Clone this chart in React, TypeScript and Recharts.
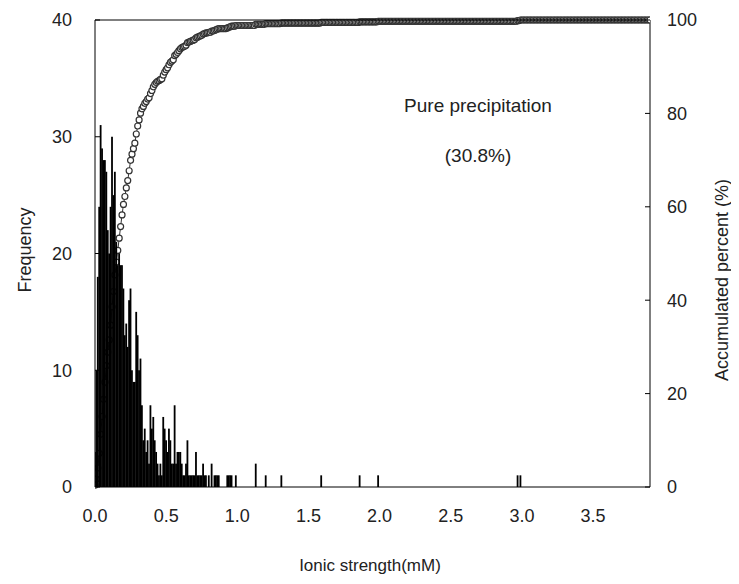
import React from "react";
import {
  ComposedChart,
  Bar,
  Line,
  XAxis,
  YAxis,
  ReferenceLine,
} from "recharts";

// frequency per 0.01 mM bin, 0.00 .. 0.99
const binFreq = [
  3, 10, 18, 24, 31, 29, 28, 28, 27, 22,
  20, 24, 30, 25, 27, 21, 19, 20, 19, 19,
  17, 13, 14, 12, 16, 17, 10, 9, 9, 15,
  13, 10, 11, 7, 4, 5, 3, 4, 2, 7,
  5, 6, 4, 3, 2, 1, 2, 1, 6, 5,
  4, 3, 5, 4, 2, 2, 7, 2, 3, 3,
  3, 2, 1, 1, 2, 4, 1, 1, 1, 1,
  1, 3, 1, 1, 1, 1, 2, 1, 1, 0,
  1, 0, 2, 0, 1, 1, 1, 1, 0, 0,
  0, 0, 0, 1, 1, 1, 1, 0, 0, 1,
];

// isolated bins above 1 mM
const sparseX = [1.13, 1.2, 1.31, 1.59, 1.86, 1.99, 2.97, 2.99];
const sparseFreq = [2, 1, 1, 1, 1, 1, 1, 1];

const lastBin = 390; // 3.90 mM
const xTicks = [0, 0.5, 1, 1.5, 2, 2.5, 3, 3.5];
const freqTicks = [0, 10, 20, 30, 40];
const pctTicks = [0, 20, 40, 60, 80, 100];

const freqAt = (i: number) => {
  if (i < binFreq.length) return binFreq[i];
  const k = sparseX.findIndex((v) => Math.round(v * 100) === i);
  return k >= 0 ? sparseFreq[k] : 0;
};

const total =
  binFreq.reduce((a, b) => a + b, 0) + sparseFreq.reduce((a, b) => a + b, 0);

const rows: { x: number; freq: number; cum: number }[] = [];
let running = 0;
for (let i = 0; i <= lastBin; i++) {
  const f = freqAt(i);
  running += f;
  rows.push({ x: i / 100, freq: f, cum: (running / total) * 100 });
}

const W = 731;
const H = 568;
const font = "'Liberation Sans', Arial, sans-serif";
const tickStyle = { fill: "#222", fontSize: 18, fontFamily: font };

const abs = (
  left: number,
  top: number,
  size: number,
  rotate = 0
): React.CSSProperties => ({
  position: "absolute",
  left,
  top,
  transform: `translate(-50%, -50%) rotate(${rotate}deg)`,
  whiteSpace: "nowrap",
  fontFamily: font,
  fontSize: size,
  lineHeight: 1,
  color: "#222",
});

// bars a bit wider than the 0.01 mM band so the dense part reads solid
const BarStick = (p: any) =>
  p.height > 0 ? (
    <rect x={p.x + p.width / 2 - 0.9} y={p.y} width={1.8} height={p.height} fill="#000" />
  ) : null;

export default function App() {
  return (
    <div style={{ position: "relative", width: W, height: H, overflow: "hidden" }}>
      {/* curve, x axis and right axis */}
      <ComposedChart
        width={W}
        height={H}
        data={rows}
        margin={{ top: 12, right: 0, bottom: 0, left: 87 }}
      >
        <XAxis
          dataKey="x"
          type="number"
          domain={[0, 3.9]}
          ticks={xTicks}
          tickFormatter={(v: number) => v.toFixed(1)}
          tickLine={false}
          tickMargin={16}
          height={89}
          allowDataOverflow
          axisLine={{ stroke: "#000" }}
          tick={tickStyle}
        />
        <YAxis
          yAxisId="right"
          orientation="right"
          width={89}
          domain={[0, 100]}
          ticks={pctTicks}
          tickSize={-5}
          tickMargin={22}
          axisLine={{ stroke: "#000" }}
          tickLine={{ stroke: "#000" }}
          tick={tickStyle}
        />
        <Line
          yAxisId="right"
          dataKey="cum"
          stroke="#333"
          strokeWidth={1}
          dot={{ r: 3, fill: "#fff", stroke: "#333", strokeWidth: 1.2 }}
          isAnimationActive={false}
        />
      </ComposedChart>

      {/* histogram and left axis on top, so bars cover the lower part of the curve */}
      <div style={{ position: "absolute", left: 0, top: 0 }}>
        <ComposedChart
          width={W}
          height={H}
          data={rows}
          margin={{ top: 12, right: 89, bottom: 89, left: 0 }}
        >
          <XAxis dataKey="x" type="number" domain={[0, 3.9]} allowDataOverflow hide />
          <YAxis
            yAxisId="left"
            orientation="left"
            width={87}
            domain={[0, 40]}
            ticks={freqTicks}
            tickSize={-5}
            tickMargin={28}
            axisLine={{ stroke: "#000" }}
            tickLine={{ stroke: "#000" }}
            tick={tickStyle}
          />
          <ReferenceLine yAxisId="left" y={40} stroke="#000" />
          <Bar
            yAxisId="left"
            dataKey="freq"
            fill="#000"
            shape={BarStick}
            isAnimationActive={false}
          />
        </ComposedChart>
      </div>

      <div style={abs(17, 242, 18, -90)}>Frequency</div>
      <div style={abs(714, 272, 18, -90)}>Accumulated percent (%)</div>
      <div style={abs(362, 557, 17)}>Ionic strength(mM)</div>
      <div style={abs(470, 97, 19)}>Pure precipitation</div>
      <div style={abs(470, 147, 19)}>(30.8%)</div>
    </div>
  );
}
